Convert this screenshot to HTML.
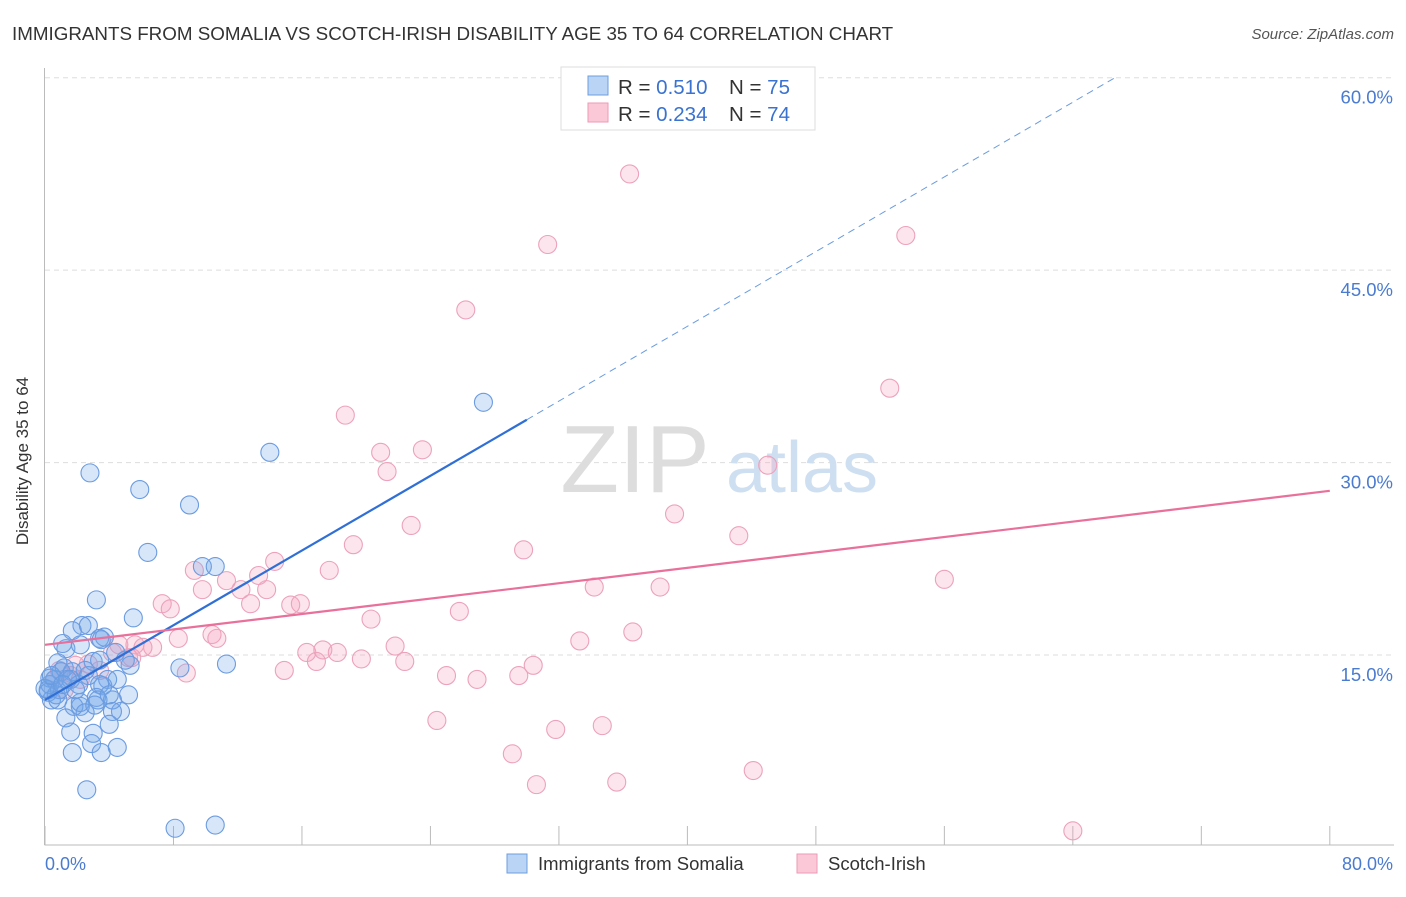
<!DOCTYPE html>
<html><head><meta charset="utf-8"><style>
body{margin:0;background:#fff;font-family:"Liberation Sans",sans-serif;}
svg text{font-family:"Liberation Sans",sans-serif;}
</style></head><body>
<svg width="1406" height="892" xmlns="http://www.w3.org/2000/svg" id="chart">
<text x="12" y="40" font-size="18.8" fill="#333">IMMIGRANTS FROM SOMALIA VS SCOTCH-IRISH DISABILITY AGE 35 TO 64 CORRELATION CHART</text>
<text x="1394" y="39" font-size="15" fill="#555" font-style="italic" text-anchor="end">Source: ZipAtlas.com</text>
<g id="grid"></g>
<g><text x="635" y="492" font-size="96" font-family="Liberation Serif" fill="#ddd" text-anchor="middle">ZIP</text><text x="802" y="492" font-size="72" fill="#cfdff2" text-anchor="middle">atlas</text></g>
<line x1="44.5" y1="68" x2="44.5" y2="845" stroke="#bbb"/>
<line x1="44.5" y1="845" x2="1394" y2="845" stroke="#bbb"/>
<g id="ticks"></g>
<g id="pts"></g>
<g id="lines"></g>
<text x="22" y="455" font-size="17" fill="#333" text-anchor="middle" transform="rotate(-90 28 455)">Disability Age 35 to 64</text>
<text x="45" y="870" font-size="18" fill="#4a7bd0">0.0%</text>
<text x="1393" y="870" font-size="18" fill="#4a7bd0" text-anchor="end">80.0%</text>
<g>
<rect x="561" y="67" width="254" height="63" fill="#fff" stroke="#ddd"/>
<rect x="588" y="76" width="20" height="19" fill="#b9d4f5" stroke="#6d9de0"/>
<rect x="588" y="103" width="20" height="19" fill="#fbc8d8" stroke="#ec9ab7"/>
<text x="618" y="94" font-size="20.5" fill="#333">R = <tspan fill="#3a72d0">0.510</tspan><tspan x="729">N = </tspan><tspan fill="#3a72d0">75</tspan></text>
<text x="618" y="121" font-size="20.5" fill="#333">R = <tspan fill="#3a72d0">0.234</tspan><tspan x="729">N = </tspan><tspan fill="#3a72d0">74</tspan></text>
</g>
<g>
<rect x="507" y="854" width="20" height="19" fill="#b9d4f5" stroke="#6d9de0"/>
<text x="538" y="870" font-size="18.5" fill="#333">Immigrants from Somalia</text>
<rect x="797" y="854" width="20" height="19" fill="#fbc8d8" stroke="#ec9ab7"/>
<text x="828" y="870" font-size="18.5" fill="#333">Scotch-Irish</text>
</g>
</svg>
<script>
const blueX=[2.8,5.9,9.0,6.4,14.0,27.3,9.8,10.6,3.2,5.5,2.3,1.7,1.1,1.3,3.4,3.7,3.5,2.2,0.8,1.2,3.0,1.7,2.7,3.9,3.6,4.5,3.4,5.2,4.2,3.2,2.2,1.8,2.2,1.3,2.5,3.3,4.7,4.2,0.4,0.2,0.3,0.6,1.0,1.6,2.1,4.0,1.6,3.0,4.5,2.9,1.7,3.5,2.6,8.1,10.6,8.4,11.3,4.4,5.3,0.3,0.2,0.7,0.9,0.0,0.4,2.7,1.9,1.4,3.4,5.0,0.8,3.1,2.5,1.1,4.0];
const blueY=[29.2,27.9,26.7,23.0,30.8,34.7,21.9,21.9,19.3,17.9,17.3,16.9,15.9,15.5,16.3,16.4,16.2,15.8,14.4,14.0,14.5,13.7,13.4,13.1,12.6,13.1,12.7,11.9,11.5,11.7,11.0,11.0,11.3,10.1,10.5,11.5,10.6,10.6,11.5,12.3,12.7,13.1,13.7,13.1,12.7,9.6,9.0,8.9,7.8,8.1,7.4,7.4,4.5,1.5,1.75,14.0,14.3,15.2,14.2,13.2,12.1,11.9,12.3,12.4,13.4,17.3,12.3,13.1,14.6,14.6,11.5,11.1,13.8,12.7,11.9];
const pinkX=[36.4,31.3,53.6,26.2,52.6,18.7,20.9,23.5,21.3,45.0,22.8,39.2,19.2,29.8,43.2,14.3,9.3,17.7,13.3,11.3,12.2,9.8,13.8,12.8,15.3,15.9,7.3,7.8,20.3,25.8,34.2,38.3,56.0,8.3,10.4,10.7,6.7,6.1,4.6,5.6,5.4,5.2,4.2,21.8,33.3,36.6,16.3,16.9,17.3,18.2,19.7,22.4,14.9,8.8,30.4,25.0,26.9,29.5,2.7,1.9,0.9,0.6,1.6,3.4,24.4,31.8,34.7,29.1,30.6,35.6,44.1,64.0,2.2,1.2];
const pinkY=[52.5,47.0,47.7,41.9,35.8,33.7,30.8,31.0,29.3,29.8,25.1,26.0,23.6,23.2,24.3,22.3,21.6,21.6,21.2,20.8,20.1,20.1,20.1,19.0,18.9,19.0,19.0,18.6,17.8,18.4,20.3,20.3,20.9,16.3,16.6,16.3,15.6,15.6,15.8,15.8,14.8,14.8,15.2,15.7,16.1,16.8,15.2,14.5,15.4,15.2,14.7,14.5,13.8,13.6,14.2,13.4,13.1,13.4,14.3,14.2,13.8,13.1,13.4,13.8,9.9,9.2,9.5,7.3,4.9,5.1,6.0,1.3,13.1,12.3];
const yTicks=[15,30,45,60];
const yTickLabels=["15.0%","30.0%","45.0%","60.0%"];
const xTicks=[0,8,16,24,32,40,48,56,64,72,80];
const blueFit=[11.5,0.728]; const blueSolidEnd=30.0; const blueDashEnd=66.6;
const pinkFit=[15.8,0.15]; const pinkEnd=80;
const sx=v=>45+v*16.06, sy=v=>847.5-v*12.83;
const NS="http://www.w3.org/2000/svg";
function mk(tag,attrs,parent){const e=document.createElementNS(NS,tag);for(const k in attrs)e.setAttribute(k,attrs[k]);document.getElementById(parent).appendChild(e);return e;}
yTicks.forEach((t,i)=>{
 const l=mk('line',{x1:45,x2:1394,y1:sy(t),y2:sy(t),stroke:'#ddd','stroke-dasharray':'5,4'},'grid');
 
 
 const tx=mk('text',{x:1393,y:sy(t)+26,'font-size':18.5,fill:'#4a7bd0','text-anchor':'end'},'grid');
 tx.textContent=yTickLabels[i];
 
 
});
xTicks.forEach(t=>{
 const l=mk('line',{x1:sx(t),x2:sx(t),y1:826,y2:845,stroke:'#bbb'},'ticks');
 
 
});
function pts(X,Y,fill,stroke,name){X.forEach((x,i)=>{
 const c=mk('circle',{cx:sx(x),cy:sy(Y[i]),r:9,fill:fill,stroke:stroke,'stroke-width':1.1},'pts');
 
 
});}
pts(pinkX,pinkY,'rgba(245,160,190,0.28)','#eca2bc','point-scotch-irish');
pts(blueX,blueY,'rgba(110,165,235,0.28)','#6b9be0','point-somalia');
const b1=mk('line',{x1:sx(0),y1:sy(blueFit[0]),x2:sx(blueSolidEnd),y2:sy(blueFit[0]+blueFit[1]*blueSolidEnd),stroke:'#2f6fd6','stroke-width':2.2},'lines');


const b2=mk('line',{x1:sx(blueSolidEnd),y1:sy(blueFit[0]+blueFit[1]*blueSolidEnd),x2:sx(blueDashEnd),y2:sy(blueFit[0]+blueFit[1]*blueDashEnd),stroke:'#6a9be0','stroke-width':1,'stroke-dasharray':'7,5'},'lines');


const p1=mk('line',{x1:sx(0),y1:sy(pinkFit[0]),x2:sx(pinkEnd),y2:sy(pinkFit[0]+pinkFit[1]*pinkEnd),stroke:'#e8709a','stroke-width':2.2},'lines');


</script>
</body></html>
